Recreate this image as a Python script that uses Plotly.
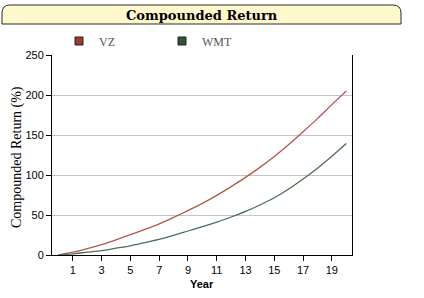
import plotly.graph_objects as go

years = list(range(0, 21))
vz = [0, 3.5, 8, 13, 19, 25.5, 32, 39, 47, 55.5, 64.5,
      74.5, 85.5, 97, 109.5, 123, 138, 154, 170.5, 188, 205]
wmt = [0, 1.5, 3.5, 5.5, 8.5, 11.5, 15.5, 19.5, 24.5, 30, 35.5,
       41, 47.5, 54.5, 62.5, 71.5, 82.5, 95, 108.5, 123.5, 139.5]
x_ticks = [1, 3, 5, 7, 9, 11, 13, 15, 17, 19]
y_ticks = [0, 50, 100, 150, 200, 250]
series = [("VZ", vz, "#B4564B", "#9E3A2E"), ("WMT", wmt, "#4B6E4D", "#2F5535")]
title_text = "Compounded Return"
x_title = "Year"
y_title = "Compounded Return (%)"

W, H = 424, 298
L, R, T, B = 52, 72, 55, 43
pw, ph = W - L - R, H - T - B


def px(x):
    return (x - L) / pw


def py(y):
    return (H - B - y) / ph


fig = go.Figure()
for name, vals, lc, mc in series:
    fig.add_trace(go.Scatter(x=years, y=vals, mode="lines", name=name,
                             line=dict(color=lc, width=1.3, shape="spline", smoothing=0.6),
                             showlegend=False))
for name, vals, lc, mc in series:
    fig.add_trace(go.Scatter(x=[None], y=[None], mode="markers", name=name,
                             marker=dict(symbol="square", size=8, color=mc,
                                         line=dict(color="#222", width=1))))

# header box with rounded top corners
x0, x1 = px(2), px(401)
yt, yb = py(5), py(24)
rx, ry = 8 / pw, 8 / ph
path = (f"M {x0},{yb} L {x0},{yt - ry} Q {x0},{yt} {x0 + rx},{yt} "
        f"L {x1 - rx},{yt} Q {x1},{yt} {x1},{yt - ry} L {x1},{yb} Z")
fig.add_shape(type="path", xref="paper", yref="paper", path=path,
              fillcolor="#FFF8CC", line=dict(color="#2a2a2a", width=1))

fig.add_annotation(text=f"<b>{title_text}</b>", xref="paper", yref="paper",
                   x=px(202), y=py(15), xanchor="center", yanchor="middle",
                   showarrow=False,
                   font=dict(family="DejaVu Serif", size=13, color="#000"))
fig.add_annotation(text=f"<b>{x_title}</b>", xref="paper", yref="paper",
                   x=px(202), y=py(284), xanchor="center", yanchor="middle",
                   showarrow=False,
                   font=dict(family="Liberation Sans", size=11, color="#000"))
fig.add_annotation(text=y_title, xref="paper", yref="paper", textangle=-90,
                   x=px(17), y=py(157), xanchor="center", yanchor="middle",
                   showarrow=False,
                   font=dict(family="Liberation Serif", size=14, color="#000"))

fig.update_layout(
    width=W, height=H, margin=dict(l=L, r=R, t=T, b=B, autoexpand=False),
    paper_bgcolor="white", plot_bgcolor="white",
    showlegend=True,
    legend=dict(orientation="h", x=px(59), y=py(41), xanchor="left", yanchor="middle",
                font=dict(family="Liberation Serif", size=12, color="#555"),
                entrywidth=58, entrywidthmode="pixels", itemwidth=30,
                bgcolor="rgba(0,0,0,0)"),
    xaxis=dict(range=[-0.45, 20.4], tickvals=x_ticks, ticks="outside", ticklen=5,
               tickcolor="#000", showline=True, linecolor="#000", linewidth=1,
               showgrid=False, zeroline=False, automargin=False,
               tickfont=dict(family="Liberation Sans", size=11, color="#000")),
    yaxis=dict(range=[0, 250], tickvals=y_ticks, ticks="outside", ticklen=5,
               tickcolor="#000", showline=True, linecolor="#000", linewidth=1,
               mirror=True, showgrid=True, gridcolor="#C4C4C4", gridwidth=1,
               zeroline=False, automargin=False,
               tickfont=dict(family="Liberation Sans", size=11, color="#000")),
)

fig.write_html("out.html")
